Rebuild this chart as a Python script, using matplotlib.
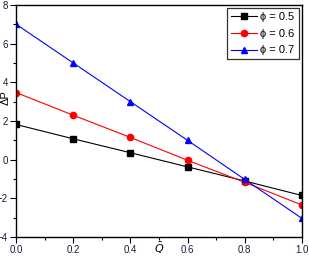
import matplotlib
matplotlib.use("Agg")
import matplotlib.pyplot as plt
from matplotlib.ticker import MultipleLocator

plt.rcParams['font.family'] = ['Liberation Sans', 'DejaVu Sans']

q = [0.0, 0.2, 0.4, 0.6, 0.8, 1.0]
dp_05 = [1.82, 1.08, 0.36, -0.37, -1.1, -1.85]
dp_06 = [3.47, 2.3, 1.15, -0.03, -1.17, -2.34]
dp_07 = [7.0, 5.0, 3.0, 1.0, -1.02, -3.03]
labels = ["\u03d5 = 0.5", "\u03d5 = 0.6", "\u03d5 = 0.7"]

fig = plt.figure(figsize=(3.09, 2.58), dpi=100)
ax = fig.add_axes([0.052, 0.081, 0.925, 0.9])

ax.plot(q, dp_05, color='black', marker='s', ms=4.5, lw=0.8, label=labels[0])
ax.plot(q, dp_06, color='red', marker='o', ms=4.5, lw=0.8, label=labels[1])
ax.plot(q, dp_07, color='blue', marker='^', ms=5, lw=0.8, label=labels[2])

ax.set_xlim(0, 1.0)
ax.set_ylim(-4, 8)
ax.xaxis.set_major_locator(MultipleLocator(0.2))
ax.xaxis.set_minor_locator(MultipleLocator(0.1))
ax.yaxis.set_major_locator(MultipleLocator(2))
ax.yaxis.set_minor_locator(MultipleLocator(1))
ax.tick_params(which='major', direction='out', length=4, width=0.8, labelsize=7, pad=2, colors='black', labelcolor='#1a1a40')
ax.tick_params(which='minor', direction='out', length=2, width=0.8)
ax.xaxis.set_major_formatter(matplotlib.ticker.FormatStrFormatter('%.1f'))
for s in ax.spines.values():
    s.set_linewidth(1.0)

ax.set_xlabel(r"$\bar{Q}$", fontsize=8, va='center')
ax.xaxis.set_label_coords(0.5, -0.05)
ax.set_ylabel("\u0394P", fontsize=8, va='center')
ax.yaxis.set_label_coords(-0.035, 0.6)

leg = ax.legend(loc='upper right', fontsize=8, frameon=True, fancybox=False,
                edgecolor='black', borderpad=0.35, labelspacing=0.6,
                handlelength=2.3, handletextpad=0.35, borderaxespad=0.3)
leg.get_frame().set_linewidth(0.9)

fig.savefig("out.png", dpi=100)
